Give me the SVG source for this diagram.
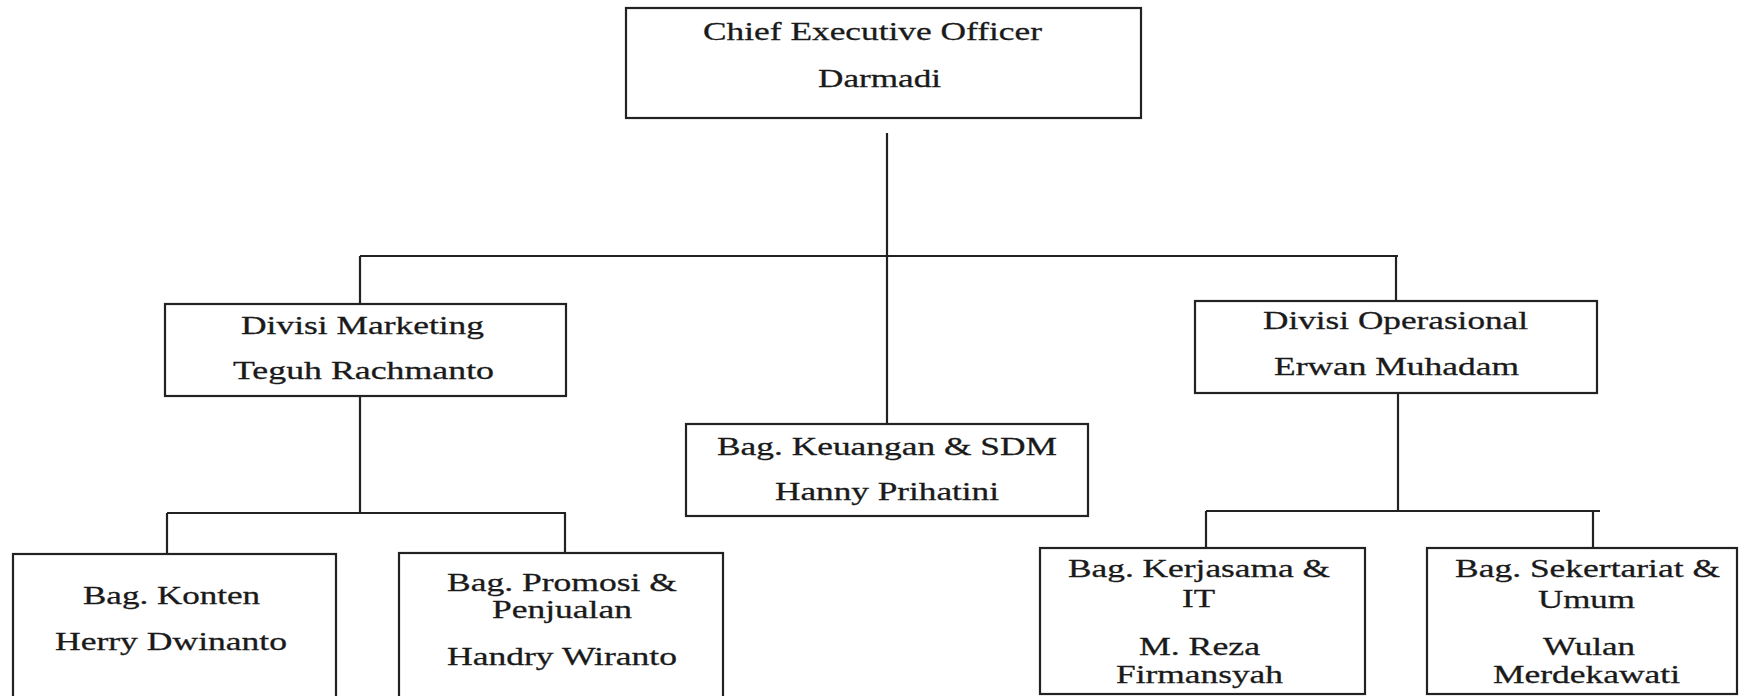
<svg xmlns="http://www.w3.org/2000/svg" width="1740" height="696" viewBox="0 0 1740 696">
<style>
.box{fill:#fff;stroke:#222;stroke-width:2.2}
.ln{fill:none;stroke:#222;stroke-width:2.2}
text{font-family:"Liberation Serif","Times New Roman",serif;font-size:26px;fill:#1a1a1a;stroke:#1a1a1a;stroke-width:0.3}
</style>
<rect width="1740" height="696" fill="#fff"/>
<g id="connectors">
<line class="ln" x1="887" y1="133" x2="887" y2="424"/>
<line class="ln" x1="360" y1="256" x2="1398" y2="256"/>
<line class="ln" x1="360" y1="256" x2="360" y2="304"/>
<line class="ln" x1="1396" y1="256" x2="1396" y2="301"/>
<line class="ln" x1="360" y1="396" x2="360" y2="513"/>
<line class="ln" x1="167" y1="513" x2="566" y2="513"/>
<line class="ln" x1="167" y1="513" x2="167" y2="554"/>
<line class="ln" x1="565" y1="513" x2="565" y2="553"/>
<line class="ln" x1="1398" y1="393" x2="1398" y2="511"/>
<line class="ln" x1="1206" y1="511" x2="1600" y2="511"/>
<line class="ln" x1="1206" y1="511" x2="1206" y2="548"/>
<line class="ln" x1="1593" y1="511" x2="1593" y2="548"/>
</g>
<g id="ceo">
<rect class="box" x="626" y="8" width="515" height="110"/>
<text x="703" y="40" textLength="339" lengthAdjust="spacingAndGlyphs">Chief Executive Officer</text>
<text x="818" y="87" textLength="123" lengthAdjust="spacingAndGlyphs">Darmadi</text>
</g>
<g id="marketing">
<rect class="box" x="165" y="304" width="401" height="92"/>
<text x="241" y="334" textLength="243" lengthAdjust="spacingAndGlyphs">Divisi Marketing</text>
<text x="233" y="379" textLength="261" lengthAdjust="spacingAndGlyphs">Teguh Rachmanto</text>
</g>
<g id="operasional">
<rect class="box" x="1195" y="301" width="402" height="92"/>
<text x="1263" y="329" textLength="265" lengthAdjust="spacingAndGlyphs">Divisi Operasional</text>
<text x="1274" y="375" textLength="245" lengthAdjust="spacingAndGlyphs">Erwan Muhadam</text>
</g>
<g id="keuangan">
<rect class="box" x="686" y="424" width="402" height="92"/>
<text x="717" y="455" textLength="340" lengthAdjust="spacingAndGlyphs">Bag. Keuangan &amp; SDM</text>
<text x="775" y="500" textLength="224" lengthAdjust="spacingAndGlyphs">Hanny Prihatini</text>
</g>
<g id="konten">
<rect class="box" x="13" y="554" width="323" height="150"/>
<text x="83" y="604" textLength="177" lengthAdjust="spacingAndGlyphs">Bag. Konten</text>
<text x="55" y="650" textLength="232" lengthAdjust="spacingAndGlyphs">Herry Dwinanto</text>
</g>
<g id="promosi">
<rect class="box" x="399" y="553" width="324" height="150"/>
<text x="447" y="591" textLength="230" lengthAdjust="spacingAndGlyphs">Bag. Promosi &amp;</text>
<text x="492" y="618" textLength="140" lengthAdjust="spacingAndGlyphs">Penjualan</text>
<text x="447" y="665" textLength="230" lengthAdjust="spacingAndGlyphs">Handry Wiranto</text>
</g>
<g id="kerjasama">
<rect class="box" x="1040" y="548" width="325" height="146"/>
<text x="1068" y="577" textLength="262" lengthAdjust="spacingAndGlyphs">Bag. Kerjasama &amp;</text>
<text x="1182" y="607" textLength="33" lengthAdjust="spacingAndGlyphs">IT</text>
<text x="1139" y="655" textLength="121" lengthAdjust="spacingAndGlyphs">M. Reza</text>
<text x="1116" y="683" textLength="167" lengthAdjust="spacingAndGlyphs">Firmansyah</text>
</g>
<g id="sekertariat">
<rect class="box" x="1427" y="548" width="310" height="146"/>
<text x="1455" y="577" textLength="265" lengthAdjust="spacingAndGlyphs">Bag. Sekertariat &amp;</text>
<text x="1538" y="608" textLength="97" lengthAdjust="spacingAndGlyphs">Umum</text>
<text x="1543" y="655" textLength="92" lengthAdjust="spacingAndGlyphs">Wulan</text>
<text x="1493" y="683" textLength="187" lengthAdjust="spacingAndGlyphs">Merdekawati</text>
</g>
</svg>
